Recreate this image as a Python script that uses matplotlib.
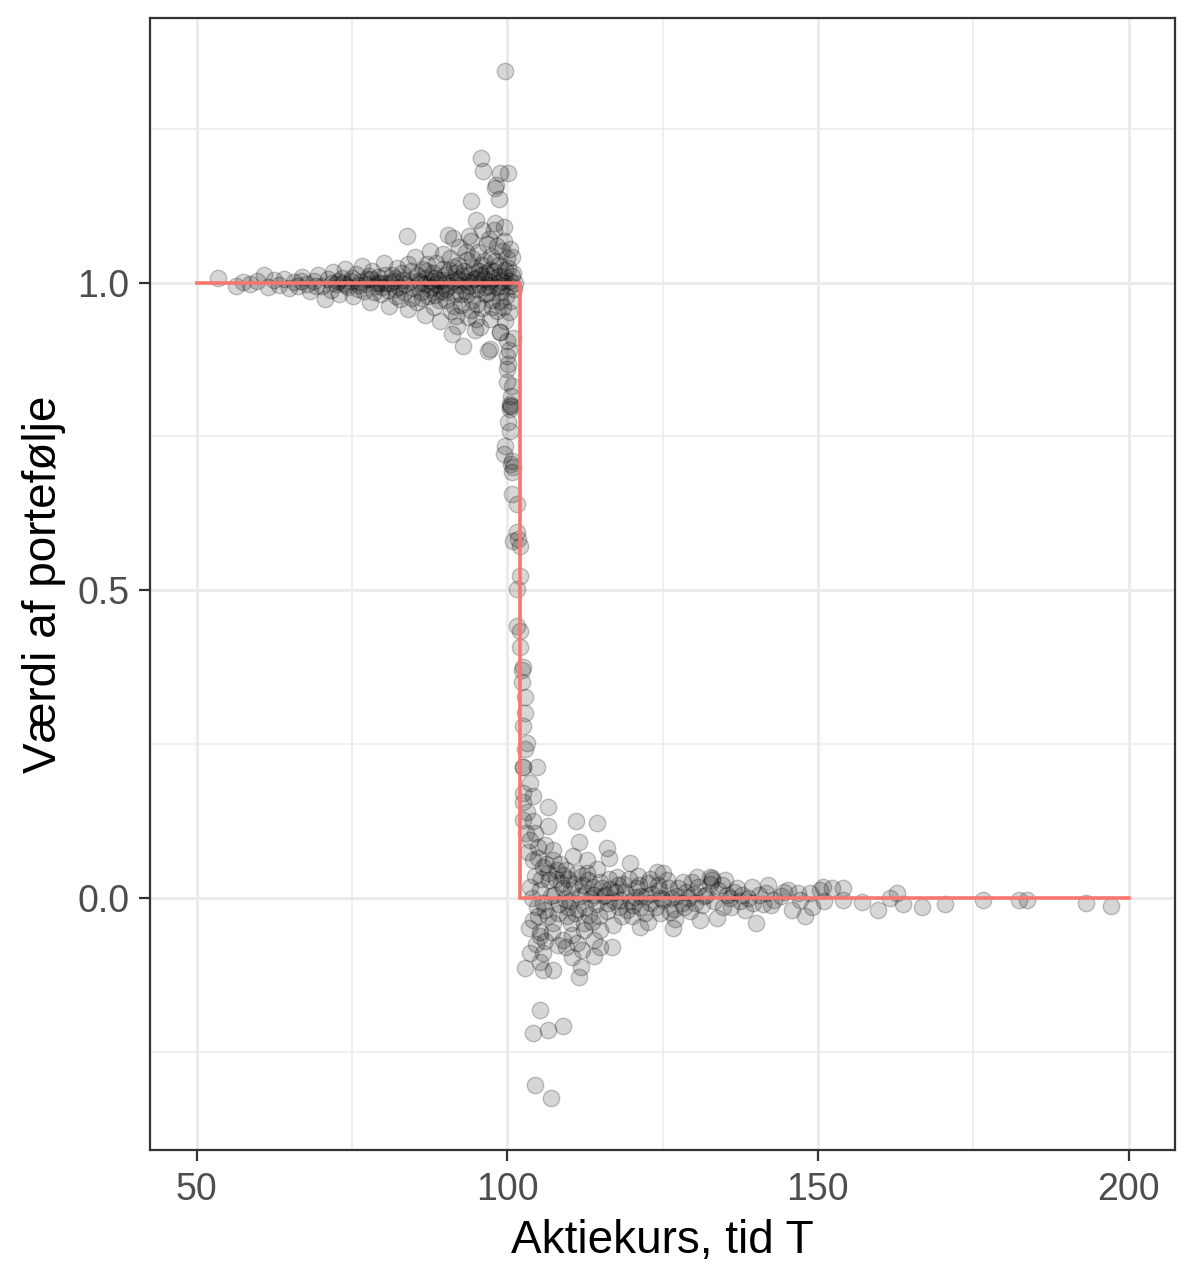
import numpy as np
import matplotlib.pyplot as plt

# simulated portfolio values, grouped by region
upper_left = [(53.5, 1.008), (56.3, 0.995), (57.4, 1.001), (58.6, 0.998), (59.8, 1.003), (60.9, 1.012),
              (61.5, 0.993), (62.4, 1.004), (63.2, 0.996), (64.1, 1.006), (64.8, 0.991), (65.6, 1.001),
              (66.3, 0.994), (67.0, 1.009), (67.7, 0.998), (68.3, 0.986), (68.9, 1.003), (69.6, 1.012),
              (70.2, 0.994), (70.7, 0.974), (71.1, 1.006), (71.6, 0.988), (72.0, 1.017), (72.5, 0.997),
              (73.0, 0.981), (73.4, 1.008), (73.9, 1.022), (74.3, 0.992), (74.8, 1.003), (75.2, 0.978),
              (75.7, 1.014), (76.1, 0.996), (76.6, 1.027), (77.0, 0.986), (77.4, 1.005), (77.9, 0.968),
              (78.3, 1.018), (78.8, 0.995), (79.2, 1.009), (79.7, 0.982), (80.1, 1.031), (80.5, 0.999),
              (81.0, 0.962), (81.4, 1.012), (81.9, 0.989), (82.3, 1.024), (82.8, 0.973), (83.2, 1.004),
              (83.9, 1.075), (84.1, 0.957), (84.5, 1.019), (84.9, 0.991), (73.5, 0.999), (76.3, 1.001),
              (79.0, 1.000), (81.7, 1.002), (83.6, 0.998),
              (72.8, 1.003), (74.0, 0.996), (75.0, 1.008), (76.0, 0.990), (77.2, 0.997), (78.0, 1.006),
              (78.6, 0.985), (79.5, 0.999), (80.3, 1.012), (80.8, 0.988), (81.2, 1.000), (82.0, 1.008),
              (82.6, 0.993), (83.0, 1.015), (83.4, 0.984), (84.3, 1.002), (84.7, 0.975), (77.7, 1.011),
              (79.9, 0.993), (82.1, 0.978), (84.0, 1.030), (71.8, 1.000), (69.2, 0.995), (66.8, 1.002)]

upper_right = [(85.2, 1.041), (85.5, 0.968), (85.8, 1.003), (86.1, 0.985), (86.4, 1.022), (86.7, 0.947),
               (87.0, 1.008), (87.3, 0.978), (87.6, 1.052), (87.9, 0.993), (88.2, 0.961), (88.5, 1.031),
               (88.8, 1.004), (89.1, 0.938), (89.4, 0.987), (89.7, 1.046), (90.0, 1.012), (90.2, 0.972),
               (90.4, 1.077), (90.6, 0.995), (90.9, 0.953), (91.1, 0.917), (91.2, 1.072), (91.4, 1.025),
               (91.6, 0.981), (91.9, 0.930), (92.1, 1.006), (92.3, 1.058), (92.5, 0.963), (92.8, 0.896),
               (93.0, 1.019), (93.2, 0.987), (93.5, 1.037), (93.7, 0.944), (94.0, 1.001), (94.1, 1.132),
               (94.1, 1.068), (94.3, 0.971), (94.6, 1.024), (94.8, 0.922), (95.0, 1.101), (95.1, 0.989),
               (95.3, 1.049), (95.6, 0.928), (95.7, 1.202), (95.8, 1.012), (96.0, 0.958), (96.1, 1.181),
               (96.3, 1.035), (96.5, 0.981), (96.7, 1.062), (96.9, 0.889), (97.0, 1.003), (97.2, 0.941),
               (97.4, 1.043), (97.6, 0.972), (97.8, 1.085), (97.9, 1.018), (98.1, 1.096), (98.1, 1.153),
               (98.2, 1.158), (98.3, 0.992), (98.4, 0.953), (98.6, 1.135), (98.6, 1.029), (98.8, 0.920),
               (98.9, 1.178), (99.0, 0.985), (99.1, 1.052), (99.3, 0.961), (99.4, 1.068), (99.5, 1.011),
               (99.6, 0.937), (99.7, 1.344), (99.8, 0.978), (100.0, 0.881), (100.1, 1.024), (100.2, 1.178),
               (100.3, 0.952), (100.5, 1.003), (100.8, 1.042), (101.0, 1.015), (100.6, 0.970), (101.1, 0.990),
               (85.9, 1.000), (86.8, 0.998), (87.7, 1.002), (88.6, 0.997), (89.5, 1.004), (90.3, 0.999),
               (91.3, 1.003), (92.2, 0.996), (93.1, 1.002), (93.9, 0.994), (94.7, 1.006), (95.5, 0.997),
               (96.2, 1.005), (97.1, 0.995), (97.7, 1.008), (98.5, 0.999), (99.2, 1.003), (88.0, 1.015),
               (89.9, 0.984), (91.8, 1.016), (93.6, 0.982), (95.4, 1.018), (96.8, 0.983), (98.7, 1.010),
               (92.7, 1.010), (90.7, 1.020), (86.9, 1.018), (88.4, 0.980), (94.4, 1.040), (97.3, 1.020),
               (99.9, 1.040), (100.9, 0.909),
               (85.4, 1.012), (86.2, 0.975), (87.1, 1.030), (87.5, 0.990), (88.3, 1.008), (89.0, 0.972),
               (89.6, 1.022), (90.1, 0.990), (90.8, 1.040), (91.5, 0.962), (92.0, 1.028), (92.6, 0.982),
               (93.3, 1.050), (93.8, 1.012), (94.2, 0.955), (94.9, 1.008), (95.2, 0.965), (95.9, 1.028),
               (96.4, 0.992), (96.6, 1.015), (97.5, 0.960), (98.0, 1.035), (98.8, 0.970), (99.1, 0.995),
               (99.6, 1.020), (100.4, 0.995), (100.7, 1.010), (101.2, 1.000), (97.0, 1.070), (98.3, 1.060),
               (99.5, 1.090), (100.5, 1.055), (96.0, 1.085), (93.9, 1.075), (91.7, 0.945), (95.0, 0.940)]

drop = [(98.9, 0.920), (97.3, 0.892), (100.0, 0.860), (100.0, 0.839), (100.8, 0.832), (100.5, 0.800),
        (100.4, 0.795), (100.2, 0.774), (100.4, 0.759), (99.7, 0.735), (99.4, 0.721), (100.8, 0.710),
        (100.6, 0.705), (100.8, 0.692), (100.8, 0.656), (101.6, 0.640), (101.6, 0.594), (101.7, 0.583),
        (102.0, 0.572), (102.0, 0.523), (101.6, 0.502), (101.6, 0.441), (102.0, 0.433), (102.0, 0.407),
        (102.6, 0.375), (102.4, 0.350), (102.9, 0.327), (102.9, 0.301), (102.6, 0.279), (103.2, 0.252),
        (102.9, 0.241), (104.8, 0.212), (102.5, 0.213), (100.2, 0.868), (100.6, 0.815), (101.0, 0.580),
        (102.4, 0.370), (100.4, 0.803), (100.6, 0.800), (99.9, 0.905), (100.3, 0.890), (100.9, 0.700)]

lower = [(102.6, 0.213), (103.7, 0.187), (102.6, 0.171), (104.1, 0.165), (106.5, 0.148), (102.6, 0.155),
         (102.6, 0.127), (104.1, 0.124), (106.5, 0.116), (111.0, 0.124), (114.5, 0.122), (111.5, 0.090),
         (116.1, 0.081), (116.3, 0.065), (103.7, 0.094), (104.9, 0.083), (107.4, 0.078), (104.1, 0.062),
         (109.0, 0.037), (107.4, 0.062), (110.6, 0.067), (112.9, 0.062), (119.8, 0.057), (105.8, 0.050),
         (103.7, 0.018), (108.6, 0.024), (114.5, 0.046), (117.7, 0.034), (124.1, 0.041), (128.3, 0.026),
         (130.6, 0.034), (132.7, 0.033),
         (105.8, -0.008), (109.7, -0.015), (104.2, -0.036), (107.4, -0.041), (110.2, -0.041), (112.3, -0.041),
         (105.3, -0.055), (112.3, -0.052), (115.0, -0.052), (105.3, -0.063), (108.9, -0.068), (111.3, -0.073),
         (113.9, -0.068), (115.0, -0.080), (116.9, -0.080), (108.1, -0.077), (103.7, -0.090), (105.7, -0.090),
         (110.5, -0.096), (102.9, -0.114), (105.3, -0.104), (105.7, -0.117), (107.4, -0.117), (111.8, -0.112),
         (111.5, -0.129), (105.3, -0.182), (104.2, -0.220), (106.5, -0.215), (109.0, -0.208), (104.5, -0.305),
         (107.0, -0.326),
         (121.4, -0.015), (126.2, -0.024), (121.4, -0.047), (126.6, -0.050), (131.0, -0.036), (133.8, -0.033),
         (104.5, 0.035), (105.2, 0.012), (106.0, -0.020), (106.8, 0.028), (107.6, 0.005), (108.2, -0.025),
         (108.9, 0.015), (109.5, 0.045), (110.1, -0.005), (110.8, 0.022), (111.4, -0.018), (112.0, 0.035),
         (112.6, 0.008), (113.2, -0.028), (113.8, 0.018), (114.3, -0.010), (114.9, 0.026), (115.5, 0.002),
         (116.0, -0.022), (116.6, 0.014), (117.2, -0.006), (117.8, 0.020), (118.4, -0.030), (119.0, 0.009),
         (119.6, 0.030), (120.2, -0.012), (120.8, 0.016), (121.5, 0.002), (122.1, -0.025), (122.7, 0.024),
         (123.3, 0.006), (123.9, -0.015), (124.5, 0.012), (125.1, -0.004), (125.7, 0.028), (126.3, 0.000),
         (126.9, -0.018), (127.5, 0.015), (128.1, -0.008), (128.8, 0.010), (129.4, -0.022), (130.0, 0.006),
         (130.7, 0.018), (131.3, -0.012), (132.0, 0.004), (132.6, 0.022), (133.3, -0.006), (134.0, 0.012),
         (134.7, -0.015), (135.3, 0.005), (107.0, 0.002), (109.3, -0.002), (111.7, 0.003), (113.5, 0.000),
         (115.8, 0.004), (118.1, -0.003), (120.5, 0.001), (122.4, 0.002), (124.8, -0.001), (127.2, 0.003),
         (129.1, 0.000), (131.6, 0.002), (104.8, -0.015), (106.2, 0.055), (108.0, 0.045), (110.4, -0.060),
         (112.8, 0.040), (117.0, -0.045), (119.2, -0.020), (121.0, 0.035), (123.0, 0.030), (125.0, 0.040),
         (127.0, -0.035), (129.8, 0.025), (133.0, 0.028),
         (103.2, 0.140), (103.0, 0.105), (104.4, 0.105), (103.4, 0.075), (105.0, 0.065), (106.0, 0.085),
         (105.5, 0.030), (106.5, 0.040), (107.8, 0.030), (108.5, 0.055), (109.8, 0.030), (110.2, 0.012),
         (111.2, 0.040), (112.2, 0.020), (113.0, 0.028), (114.0, 0.005), (115.2, 0.015), (116.4, 0.030),
         (117.4, 0.010), (118.7, 0.022), (119.9, -0.005), (121.2, 0.020), (122.9, -0.008), (124.2, 0.020),
         (126.0, 0.015), (128.4, -0.015), (130.3, -0.008), (104.0, 0.000), (105.0, -0.030), (106.6, -0.030),
         (107.2, -0.055), (108.4, -0.010), (109.6, -0.030), (110.9, -0.025), (112.5, -0.015), (113.7, -0.040),
         (114.7, -0.030), (116.2, -0.008), (118.0, -0.015), (120.0, -0.030), (122.6, -0.040), (124.6, -0.025),
         (103.5, -0.050), (104.6, -0.075), (106.0, -0.070), (109.5, -0.080), (112.0, -0.085), (114.0, -0.095)]

tail = [(133.0, 0.032), (135.1, 0.029), (139.4, 0.018), (142.0, 0.021), (145.2, 0.013), (146.8, 0.008),
        (148.7, 0.008), (150.3, 0.013), (150.8, 0.018), (152.3, 0.016), (154.0, 0.016), (154.0, -0.003),
        (157.1, -0.007), (159.6, -0.020), (161.6, 0.000), (162.8, 0.007), (163.7, -0.011), (166.7, -0.015),
        (170.4, -0.011), (176.5, -0.003), (182.4, -0.003), (183.7, -0.003), (193.2, -0.008), (197.2, -0.013),
        (136.5, 0.010), (137.5, -0.005), (138.2, -0.020), (140.0, -0.041), (140.5, 0.005), (141.2, -0.010),
        (143.0, -0.003), (144.0, 0.002), (145.8, -0.020), (147.2, -0.003), (148.0, -0.030), (149.0, -0.015),
        (151.0, -0.005), (136.0, -0.015), (138.8, 0.000), (142.5, -0.012), (144.6, 0.010), (134.5, 0.020),
        (137.0, 0.015), (135.8, 0.000), (137.8, 0.005), (139.6, -0.008), (141.6, 0.008)]

# payoff of the digital option (strike K)
strike = 102
payoff_x = [50, strike, strike, 200]
payoff_y = [1, 1, 0, 0]

pts = np.array(upper_left + upper_right + drop + lower + tail)

fig = plt.figure(figsize=(11.99, 12.84), dpi=100)
ax = fig.add_axes([0.1251, 0.1044, 0.855, 0.8816])

ax.scatter(pts[:, 0], pts[:, 1], s=140, facecolors=(0, 0, 0, 0.16),
           edgecolors=(0, 0, 0, 0.22), linewidths=1.0, zorder=2)
ax.plot(payoff_x, payoff_y, color="#F8766D", lw=2.6, zorder=3, solid_joinstyle="miter")

ax.set_xlim(42.5, 207.5)
ax.set_ylim(-0.41, 1.43)
ax.set_xticks([50, 100, 150, 200])
ax.set_yticks([0.0, 0.5, 1.0])
ax.set_yticklabels(["0.0", "0.5", "1.0"])
ax.set_xticks([75, 125, 175], minor=True)
ax.set_yticks([-0.25, 0.25, 0.75, 1.25], minor=True)

ax.grid(True, which="major", color="#EBEBEB", lw=2.2, zorder=0)
ax.grid(True, which="minor", color="#EBEBEB", lw=1.1, zorder=0)
ax.set_axisbelow(True)

for s in ax.spines.values():
    s.set_color("#333333")
    s.set_linewidth(1.6)

ax.tick_params(which="major", length=8, width=1.6, color="#333333",
               labelsize=27, labelcolor="#4D4D4D")
ax.tick_params(axis="x", which="major", pad=8)
ax.tick_params(axis="y", which="major", pad=7)
ax.tick_params(which="minor", length=0)
for lab in ax.get_xticklabels() + ax.get_yticklabels():
    lab.set_family("Liberation Sans")

ax.set_xlabel("Aktiekurs, tid T", fontsize=33, family="Liberation Sans", labelpad=8)
ax.set_ylabel("Værdi af portefølje", fontsize=33, family="Liberation Sans", labelpad=8)

fig.savefig("out.png", dpi=100)
